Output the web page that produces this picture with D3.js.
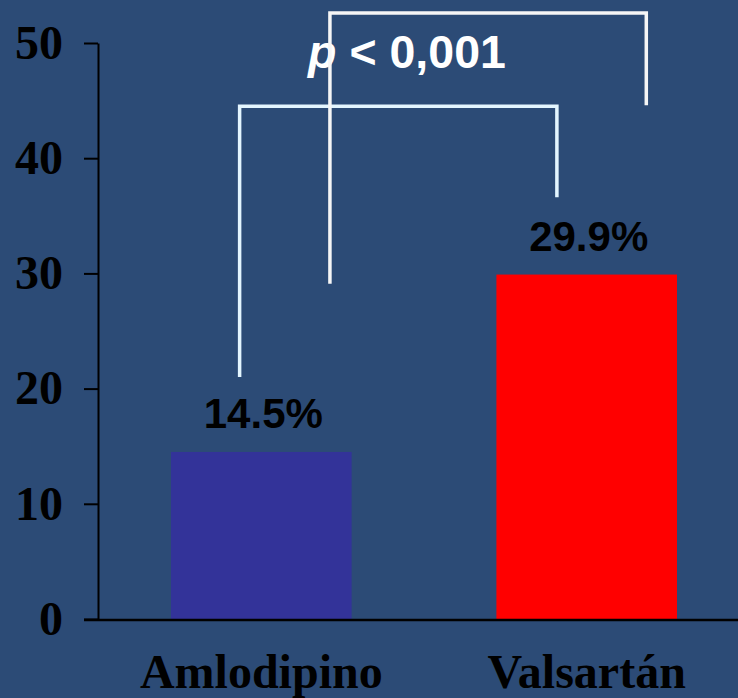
<!DOCTYPE html>
<html>
<head>
<meta charset="utf-8">
<script src="https://cdn.jsdelivr.net/npm/d3@7"></script>
<style>
  html, body { margin: 0; padding: 0; background: #2c4b76; }
  svg { display: block; }
</style>
</head>
<body>
<script>
// Chart data
const categories = ["Amlodipino", "Valsartán"];
const values = [14.5, 29.9];
const valueLabels = ["14.5%", "29.9%"];
const barColors = ["#333399", "#ff0000"];
const yTicks = [0, 10, 20, 30, 40, 50];
const pLabel = "< 0,001";

// Significance brackets: left end value, top value, right end value
const bracketLeftEnds = [21.0, 29.1];
const bracketTops = [44.5, 52.6];
const bracketRightEnds = [36.6, 44.6];

const W = 738, H = 698;
const svg = d3.select("body").append("svg").attr("width", W).attr("height", H);

svg.append("rect").attr("width", W).attr("height", H).attr("fill", "#2c4b76");

const y = d3.scaleLinear().domain([0, 50]).range([619, 43]);
const x = d3.scaleBand().domain(categories).range([171, 677]).paddingInner(0.445).paddingOuter(0);

// Bars
svg.selectAll("rect.bar").data(categories).join("rect")
  .attr("class", "bar")
  .attr("x", d => x(d))
  .attr("width", x.bandwidth())
  .attr("y", (d, i) => y(values[i]))
  .attr("height", (d, i) => y(0) - y(values[i]))
  .attr("fill", (d, i) => barColors[i]);

// Y axis
const yAxis = d3.axisLeft(y).tickValues(yTicks).tickFormat(d3.format("d"))
  .tickSize(14).tickSizeOuter(0).tickPadding(21);
const gy = svg.append("g").attr("transform", "translate(98,0)").call(yAxis);
gy.select(".domain").attr("stroke", "#000").attr("stroke-width", 2);
gy.selectAll(".tick line").attr("stroke", "#000").attr("stroke-width", 2);
gy.selectAll(".tick text")
  .attr("fill", "#000")
  .style("font-family", "'Liberation Serif', 'Times New Roman', serif")
  .style("font-weight", "bold")
  .style("font-size", "48px");

// X axis baseline
svg.append("line")
  .attr("x1", 84).attr("x2", W)
  .attr("y1", y(0) + 1).attr("y2", y(0) + 1)
  .attr("stroke", "#000").attr("stroke-width", 2.5);

// Category labels
svg.selectAll("text.cat").data(categories).join("text")
  .attr("class", "cat")
  .attr("x", d => x(d) + x.bandwidth() / 2)
  .attr("y", 688)
  .attr("text-anchor", "middle")
  .attr("fill", "#000")
  .style("font-family", "'Liberation Serif', 'Times New Roman', serif")
  .style("font-weight", "bold")
  .style("font-size", "48px")
  .text(d => d);

// Value labels
svg.selectAll("text.val").data(categories).join("text")
  .attr("class", "val")
  .attr("x", d => x(d) + x.bandwidth() / 2 + 2)
  .attr("y", (d, i) => y(values[i]) - 24)
  .attr("text-anchor", "middle")
  .attr("fill", "#000")
  .style("font-family", "'Liberation Sans', Arial, sans-serif")
  .style("font-weight", "bold")
  .style("font-size", "42px")
  .text((d, i) => valueLabels[i]);

// p-value label
const pText = svg.append("text")
  .attr("x", 407).attr("y", 68)
  .attr("text-anchor", "middle")
  .attr("fill", "#fff")
  .style("font-family", "'Liberation Sans', Arial, sans-serif")
  .style("font-weight", "bold")
  .style("font-size", "46.5px");
pText.append("tspan").style("font-style", "italic").text("p");
pText.append("tspan").text(" " + pLabel);

// Brackets (lower one first, upper one drawn over it)
const bracketColors = ["#e4f6ff", "#f6f6f6"];
const bracketFracL = [0.38, 0.88];
const bracketFracR = [0.335, 0.83];
bracketTops.forEach((top, i) => {
  const xl = x(categories[0]) + bracketFracL[i] * x.bandwidth();
  const xr = x(categories[1]) + bracketFracR[i] * x.bandwidth();
  const path = d3.path();
  path.moveTo(xl, y(bracketLeftEnds[i]));
  path.lineTo(xl, y(top));
  path.lineTo(xr, y(top));
  path.lineTo(xr, y(bracketRightEnds[i]));
  svg.append("path")
    .attr("d", path.toString())
    .attr("fill", "none")
    .attr("stroke", bracketColors[i])
    .attr("stroke-width", 3.5);
});
</script>
</body>
</html>
